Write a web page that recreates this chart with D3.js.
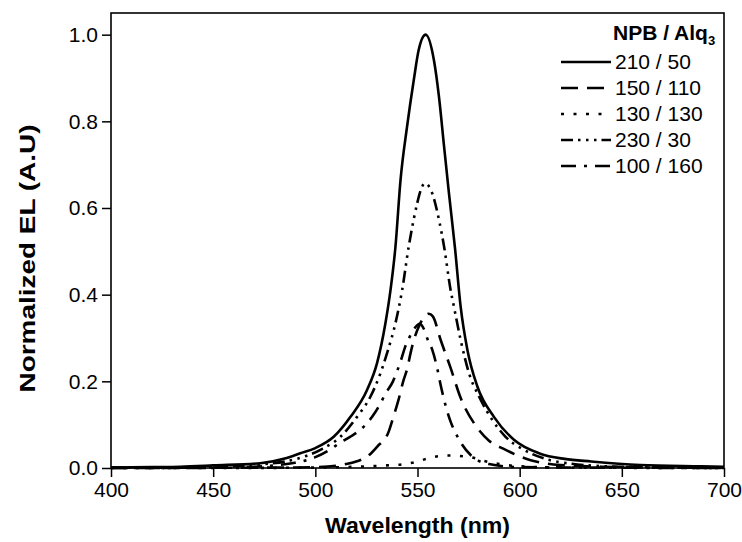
<!DOCTYPE html>
<html>
<head>
<meta charset="utf-8">
<script src="https://cdn.jsdelivr.net/npm/d3@7"></script>
<style>
  body { margin: 0; background: #fff; }
  text { font-family: "Liberation Sans", Arial, sans-serif; }
</style>
</head>
<body>
<svg id="chart" width="742" height="542"></svg>
<script>
// series names (NPB / Alq3 thickness) as in the legend
const seriesNames = ["210 / 50", "150 / 110", "130 / 130", "230 / 30", "100 / 160"]

// wavelength (nm) and normalized EL
const wl210_50 = [400, 420, 434, 450, 473, 485, 492.6, 500, 509, 517.2, 525.3, 530.2, 534.3, 536.8, 539.2, 541.7, 544.9, 548.2, 550.6, 554, 558, 560.5, 563, 565.4, 568.4, 571.1, 574.4, 579.3, 587.4, 597.2, 610, 622, 635, 659, 689, 700]
const el210_50 = [0.001, 0.002, 0.003, 0.006, 0.011, 0.022, 0.034, 0.046, 0.072, 0.118, 0.18, 0.242, 0.334, 0.411, 0.51, 0.665, 0.788, 0.896, 0.965, 1.0, 0.942, 0.857, 0.742, 0.634, 0.505, 0.373, 0.273, 0.188, 0.118, 0.065, 0.033, 0.021, 0.015, 0.007, 0.004, 0.003]

const wl150_110 = [400, 480, 500, 510, 515, 520, 525.3, 530.2, 535.9, 538, 540.7, 543, 545, 546.6, 548.2, 551, 553.5, 555.5, 557.5, 561.3, 566.2, 571.1, 578.9, 585, 592.2, 605.4, 620, 640, 700]
const el150_110 = [0, 0.001, 0.002, 0.005, 0.009, 0.015, 0.026, 0.049, 0.084, 0.115, 0.157, 0.2, 0.23, 0.265, 0.295, 0.33, 0.35, 0.356, 0.35, 0.296, 0.231, 0.162, 0.095, 0.063, 0.044, 0.018, 0.007, 0.003, 0]

const wl130_130 = [400, 450, 500, 520, 535, 545, 550, 555, 560, 565, 570, 576, 582, 590, 600, 620, 700]
const el130_130 = [0, 0, 0.001, 0.003, 0.006, 0.01, 0.015, 0.022, 0.027, 0.029, 0.028, 0.025, 0.017, 0.009, 0.004, 0.001, 0]

const wl230_30 = [400, 450, 470, 490, 502.5, 512.3, 520.4, 527, 531.9, 535.1, 539.2, 542.5, 545.7, 548.2, 549.8, 551.5, 553.6, 557.2, 560.5, 563, 566.2, 567.8, 571.1, 575.2, 580.1, 586.6, 593.1, 602.1, 611.9, 625, 650, 700]
const el230_30 = [0.001, 0.002, 0.007, 0.02, 0.042, 0.072, 0.118, 0.165, 0.219, 0.265, 0.334, 0.411, 0.511, 0.575, 0.61, 0.64, 0.657, 0.634, 0.573, 0.511, 0.411, 0.373, 0.296, 0.219, 0.165, 0.111, 0.072, 0.042, 0.022, 0.01, 0.003, 0.001]

const wl100_160 = [400, 450, 470, 480, 490, 500, 507, 512, 517, 522, 527.8, 532, 534, 538, 542, 544, 547, 549, 551, 553, 555, 557.2, 559.6, 561.3, 563.7, 566.2, 569.6, 576, 585, 600, 700]
const el100_160 = [0, 0.001, 0.003, 0.006, 0.012, 0.025, 0.042, 0.058, 0.072, 0.088, 0.118, 0.15, 0.169, 0.2, 0.25, 0.28, 0.31, 0.325, 0.333, 0.322, 0.296, 0.273, 0.231, 0.192, 0.145, 0.107, 0.072, 0.03, 0.009, 0.002, 0]

const xTicks = [400, 450, 500, 550, 600, 650, 700]
const yTicks = [0.0, 0.2, 0.4, 0.6, 0.8, 1.0]

const seriesWl = [wl210_50, wl150_110, wl130_130, wl230_30, wl100_160]
const seriesEl = [el210_50, el150_110, el130_130, el230_30, el100_160]
const dashes = [null, "17,9", "3,9.5", "12,5,2.5,5.5,2.5,5.5,2.5,5", "15,8,3,8"]

const svg = d3.select("#chart")
const margin = {left: 111, right: 18, top: 13, bottom: 74}
const W = 742, H = 542

const x = d3.scaleLinear().domain([400, 700]).range([margin.left, W - margin.right])
const y = d3.scaleLinear().domain([0, 1.05]).range([H - margin.bottom, margin.top])

const drawAxes = () => {
    const xMinor = d3.range(400, 701, 25)
    const yMinor = d3.range(0, 1.01, 0.1)

    const gx = svg.append("g").attr("transform", `translate(0,${y(0)})`)
    gx.call(d3.axisBottom(x).tickValues(xMinor).tickSize(5).tickFormat(""))
    gx.call(d3.axisBottom(x).tickValues(xTicks).tickSize(9).tickPadding(5).tickFormat(d3.format("d")))

    const gy = svg.append("g").attr("transform", `translate(${x(400)},0)`)
    gy.call(d3.axisLeft(y).tickValues(yMinor).tickSize(5).tickFormat(""))
    gy.call(d3.axisLeft(y).tickValues(yTicks).tickSize(9).tickPadding(4).tickFormat(d3.format(".1f")))

    svg.selectAll(".domain").remove()
    svg.selectAll(".tick line").attr("stroke", "#000").attr("stroke-width", 1.5)
    svg.selectAll(".tick text")
        .attr("font-size", 21)
        .attr("fill", "#000")
        .style("font-family", "'Liberation Sans', Arial, sans-serif")

    // frame
    svg.append("rect")
        .attr("x", x(400)).attr("y", y(1.05))
        .attr("width", x(700) - x(400)).attr("height", y(0) - y(1.05))
        .attr("fill", "none").attr("stroke", "#000").attr("stroke-width", 1.6)

    svg.append("text")
        .attr("x", (x(400) + x(700)) / 2).attr("y", 533)
        .attr("text-anchor", "middle")
        .attr("font-size", 22).attr("font-weight", "bold")
        .attr("textLength", 185).attr("lengthAdjust", "spacingAndGlyphs")
        .text("Wavelength (nm)")

    svg.append("text")
        .attr("transform", `translate(35,${(y(0) + y(1.05)) / 2 + 18}) rotate(-90)`)
        .attr("text-anchor", "middle")
        .attr("font-size", 22).attr("font-weight", "bold")
        .attr("textLength", 268).attr("lengthAdjust", "spacingAndGlyphs")
        .text("Normalized EL (A.U)")
}

const drawCurves = () => {
    const line = d3.line()
        .x(d => x(d[0]))
        .y(d => y(d[1]))
        .curve(d3.curveMonotoneX)

    seriesWl.forEach((wl, i) => {
        const pts = wl.map((w, j) => [w, seriesEl[i][j]])
        svg.append("path")
            .datum(pts)
            .attr("d", line)
            .attr("fill", "none")
            .attr("stroke", "#000")
            .attr("stroke-width", 2.6)
            .attr("stroke-dasharray", dashes[i])
    })
}

const drawLegend = () => {
    const lx = 561, tx = 615, rowY = [62, 88, 114, 140, 166]

    const title = svg.append("text")
        .attr("x", 613).attr("y", 40)
        .attr("font-size", 21).attr("font-weight", "bold")
        .text("NPB / Alq")
    title.append("tspan")
        .attr("font-size", 13).attr("dy", 5)
        .text("3")

    seriesNames.forEach((name, i) => {
        svg.append("line")
            .attr("x1", lx).attr("x2", 611)
            .attr("y1", rowY[i]).attr("y2", rowY[i])
            .attr("stroke", "#000").attr("stroke-width", 2.6)
            .attr("stroke-dasharray", dashes[i])
        svg.append("text")
            .attr("x", tx).attr("y", rowY[i] + 7)
            .attr("font-size", 21)
            .text(name)
    })
}

drawAxes()
drawCurves()
drawLegend()
</script>
</body>
</html>
